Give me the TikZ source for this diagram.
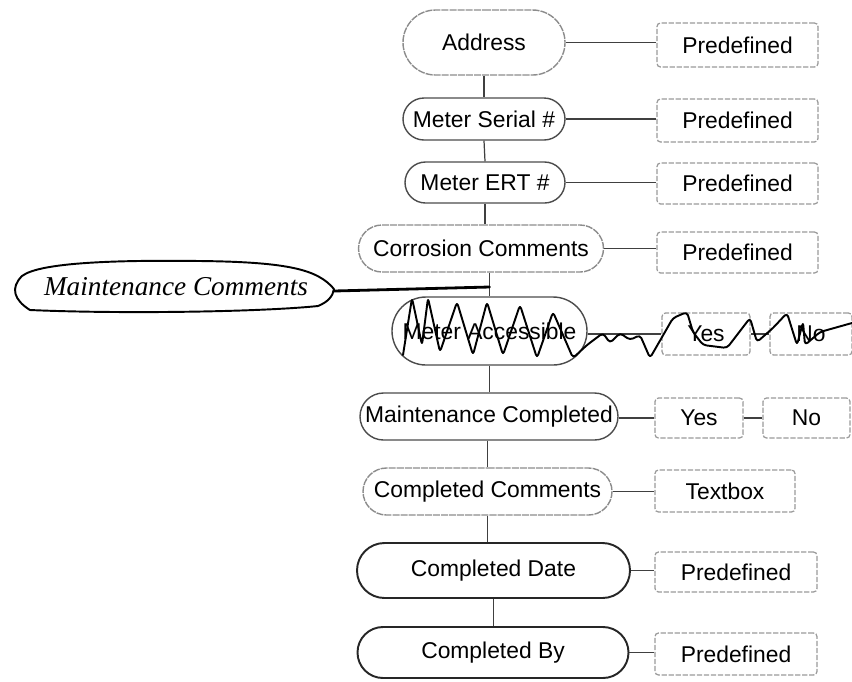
\documentclass[tikz,border=0pt]{standalone}
\usepackage{fontspec}
\setmainfont{Liberation Sans}
\newfontfamily\handfont{Liberation Serif}
\usetikzlibrary{shapes.misc}
\begin{document}
\begin{tikzpicture}[x=0.02cm,y=-0.02cm,
  sz/.style 2 args={minimum width=#1*0.02cm, minimum height=#2*0.02cm},
  field/.style={rounded rectangle, inner sep=0pt, draw=black!70, line width=0.8pt,
    font=\fontsize{13}{15}\selectfont},
  fieldlight/.style={field, draw=black!45, dash pattern=on 4pt off 0.6pt},
  fielddark/.style={field, draw=black!85, line width=1.1pt},
  valbox/.style={rectangle, rounded corners=2pt, inner sep=0pt, draw=black!40,
    line width=0.7pt, dash pattern=on 3pt off 1pt, font=\fontsize{13}{15}\selectfont},
  link/.style={draw=black!75, line width=0.7pt},
  ink/.style={draw=black, line width=1.2pt, line join=round, line cap=round}]
\useasboundingbox (0,0) rectangle (852,681);

% field nodes
\node[fieldlight, sz={162}{65}] (addr) at (484,42.5) {Address};
\node[field, sz={162}{42}] (serial) at (484,119) {Meter Serial \#};
\node[field, sz={160}{41}] (ert) at (485,182.5) {Meter ERT \#};
\node[fieldlight, sz={245}{47}] (corr) at (481,248.5) {Corrosion Comments};
\node[field, sz={195}{68}] (acc) at (489.5,331) {Meter Accessible};
\node[field, sz={258}{47}] (mcomp) at (489,416.5) {Maintenance Completed};
\node[fieldlight, sz={249}{47}] (ccom) at (487.5,491.5) {Completed Comments};
\node[fielddark, sz={273}{55}] (cdate) at (493.5,570.5) {Completed Date};
\node[fielddark, sz={271}{51}] (cby) at (493,652.5) {Completed By};

% value boxes
\node[valbox, sz={161}{44}] (p1) at (737.5,45) {Predefined};
\node[valbox, sz={161}{43}] (p2) at (737.5,120.5) {Predefined};
\node[valbox, sz={161}{41}] (p3) at (737.5,183.5) {Predefined};
\node[valbox, sz={161}{41}] (p4) at (737.5,252.5) {Predefined};
\node[valbox, sz={88}{42}] (ayes) at (706,334) {Yes};
\node[valbox, sz={82}{42}] (ano) at (811,334) {No};
\node[valbox, sz={88}{40}] (myes) at (699,418) {Yes};
\node[valbox, sz={87}{40}] (mno) at (806.5,418) {No};
\node[valbox, sz={140}{42}] (tbox) at (725,491) {Textbox};
\node[valbox, sz={162}{40}] (p5) at (736,572) {Predefined};
\node[valbox, sz={162}{42}] (p6) at (736,654) {Predefined};

% vertical trunk
\draw[link] (addr.south) -- (serial.north);
\draw[link] (serial.south) -- (ert.north);
\draw[link] (ert.south) -- (ert.south |- corr.north);
\draw[link] (acc.north |- corr.south) -- (acc.north);
\draw[link] (acc.south) -- (acc.south |- mcomp.north);
\draw[link] (mcomp.south -| ccom.north) -- (ccom.north);
\draw[link] (ccom.south) -- (ccom.south |- cdate.north);
\draw[link] (cdate.south) -- (cdate.south |- cby.north);

% horizontal links
\draw[link] (addr.east) -- (addr.east -| p1.west);
\draw[link] (serial.east) -- (serial.east -| p2.west);
\draw[link] (ert.east) -- (ert.east -| p3.west);
\draw[link] (corr.east) -- (corr.east -| p4.west);
\draw[link] (acc.east |- ayes.west) -- (ayes.west);
\draw[link] (ayes.east) -- (ano.west);
\draw[link] (mcomp.east |- myes.west) -- (myes.west);
\draw[link] (myes.east) -- (mno.west);
\draw[link] (ccom.east) -- (ccom.east -| tbox.west);
\draw[link] (cdate.east) -- (cdate.east -| p5.west);
\draw[link] (cby.east) -- (cby.east -| p6.west);

% handwritten annotation
\node[font=\handfont\itshape\fontsize{15.5}{17}\selectfont] (hand) at (176,287) {Maintenance Comments};
\draw[ink, line width=1.1pt] (334,289) .. controls (318,270) and (290,262) .. (200,261)
  .. controls (120,260) and (40,262) .. (22,276)
  .. controls (10,288) and (14,300) .. (30,310)
  .. controls (120,314) and (260,312) .. (318,306)
  .. controls (328,302) and (333,296) .. (334,289);
\coordinate (hj) at (acc.north |- 0,287);
\draw[ink, line width=1.6pt] (334,291) -- (hj);

% scribble over Meter Accessible
\draw[ink, line width=1.1pt, rounded corners=2pt] (403,355) -- (412,298) -- (422,345) -- (428,298) -- (440,352)
  -- (457,302) -- (473,355) -- (487,302) -- (503,355) -- (520,305) -- (537,358)
  -- (553,312) -- (573,358) -- (587,345) -- (603,333) -- (610,343) -- (620,333)
  -- (630,340) -- (640,335) -- (650,358) -- (673,318) -- (687,312) -- (693,332)
  -- (703,345) -- (727,348) -- (750,318) -- (757,342) -- (773,328) -- (787,313)
  -- (797,345) -- (803,322) -- (805,345) -- (820,332) -- (852,323);
\end{tikzpicture}
\end{document}
